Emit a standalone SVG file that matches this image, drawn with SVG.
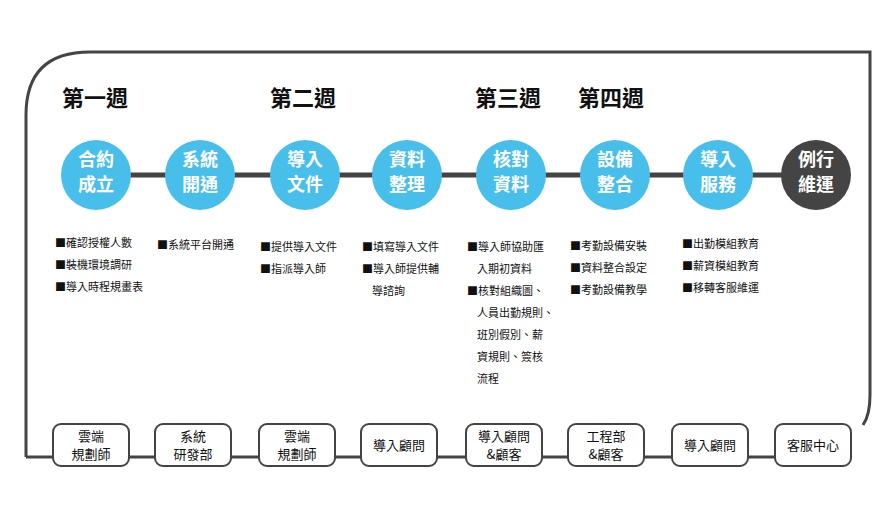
<svg xmlns="http://www.w3.org/2000/svg" width="889" height="516" viewBox="0 0 889 516">
<style>
.f{fill:none;stroke:#444;stroke-width:3}
.c{fill:#48bfea}
.d{fill:#444}
.ct{font-family:"Noto Sans CJK TC","Noto Sans CJK SC",sans-serif;font-weight:bold;font-size:18px;fill:#fff;text-anchor:middle}
.wk{font-family:"Noto Sans CJK TC",sans-serif;font-weight:bold;font-size:22px;fill:#111}
.b{font-family:"Noto Sans CJK TC",sans-serif;font-size:11px;fill:#111}
.bx{fill:#fff;stroke:#444;stroke-width:2}
.bt{font-family:"Noto Sans CJK TC",sans-serif;font-size:13px;fill:#111;text-anchor:middle}
</style>
<g id="frame"><path class="f" d="M26,457 V115 Q26,52 90,52 H870 V395 Q870,415 863,425"/></g>
<g id="connectors">
<line x1="96" y1="175" x2="816" y2="175" stroke="#444" stroke-width="5"/>
<line x1="26" y1="457" x2="850" y2="457" stroke="#444" stroke-width="3"/>
</g>
<g id="weeks">
<text class="wk" x="62" y="106">第一週</text>
<text class="wk" x="270" y="106">第二週</text>
<text class="wk" x="475" y="106">第三週</text>
<text class="wk" x="578" y="106">第四週</text>
</g>
<g id="n1"><circle class="c" cx="96" cy="175" r="35"/><text class="ct" x="96" y="166">合約</text><text class="ct" x="96" y="191">成立</text></g>
<g id="n2"><circle class="c" cx="200" cy="175" r="35"/><text class="ct" x="200" y="166">系統</text><text class="ct" x="200" y="191">開通</text></g>
<g id="n3"><circle class="c" cx="305" cy="175" r="35"/><text class="ct" x="305" y="166">導入</text><text class="ct" x="305" y="191">文件</text></g>
<g id="n4"><circle class="c" cx="407" cy="175" r="35"/><text class="ct" x="407" y="166">資料</text><text class="ct" x="407" y="191">整理</text></g>
<g id="n5"><circle class="c" cx="511" cy="175" r="35"/><text class="ct" x="511" y="166">核對</text><text class="ct" x="511" y="191">資料</text></g>
<g id="n6"><circle class="c" cx="615" cy="175" r="35"/><text class="ct" x="615" y="166">設備</text><text class="ct" x="615" y="191">整合</text></g>
<g id="n7"><circle class="c" cx="718" cy="175" r="35"/><text class="ct" x="718" y="166">導入</text><text class="ct" x="718" y="191">服務</text></g>
<g id="n8"><circle class="d" cx="816" cy="175" r="35"/><text class="ct" x="816" y="166">例行</text><text class="ct" x="816" y="191">維運</text></g>
<g id="bullets" class="b">
<text x="55" y="247">■確認授權人數</text><text x="55" y="269">■裝機環境調研</text><text x="55" y="291">■導入時程規畫表</text>
<text x="157" y="249">■系統平台開通</text>
<text x="260" y="251">■提供導入文件</text><text x="260" y="273">■指派導入師</text>
<text x="362" y="251">■填寫導入文件</text><text x="362" y="273">■導入師提供輔</text><text x="372" y="295">導諮詢</text>
<text x="467" y="251">■導入師協助匯</text><text x="477" y="273">入期初資料</text><text x="467" y="295">■核對組織圖、</text><text x="477" y="317">人員出勤規則、</text><text x="477" y="339">班別假別、薪</text><text x="477" y="361">資規則、簽核</text><text x="477" y="383">流程</text>
<text x="570" y="250">■考勤設備安裝</text><text x="570" y="272">■資料整合設定</text><text x="570" y="294">■考勤設備教學</text>
<text x="682" y="248">■出勤模組教育</text><text x="682" y="270">■薪資模組教育</text><text x="682" y="292">■移轉客服維運</text>
</g>
<g id="r1"><rect class="bx" x="53" y="424" width="76" height="42" rx="8"/><text class="bt" x="91" y="441">雲端</text><text class="bt" x="91" y="459">規劃師</text></g>
<g id="r2"><rect class="bx" x="155" y="424" width="76" height="42" rx="8"/><text class="bt" x="193" y="441">系統</text><text class="bt" x="193" y="459">研發部</text></g>
<g id="r3"><rect class="bx" x="259" y="424" width="76" height="42" rx="8"/><text class="bt" x="297" y="441">雲端</text><text class="bt" x="297" y="459">規劃師</text></g>
<g id="r4"><rect class="bx" x="361" y="424" width="76" height="42" rx="8"/><text class="bt" x="399" y="450">導入顧問</text></g>
<g id="r5"><rect class="bx" x="466" y="424" width="76" height="42" rx="8"/><text class="bt" x="504" y="441">導入顧問</text><text class="bt" x="504" y="459">&amp;顧客</text></g>
<g id="r6"><rect class="bx" x="568" y="424" width="76" height="42" rx="8"/><text class="bt" x="606" y="441">工程部</text><text class="bt" x="606" y="459">&amp;顧客</text></g>
<g id="r7"><rect class="bx" x="672" y="424" width="76" height="42" rx="8"/><text class="bt" x="710" y="450">導入顧問</text></g>
<g id="r8"><rect class="bx" x="775" y="424" width="76" height="42" rx="8"/><text class="bt" x="813" y="450">客服中心</text></g>
</svg>
